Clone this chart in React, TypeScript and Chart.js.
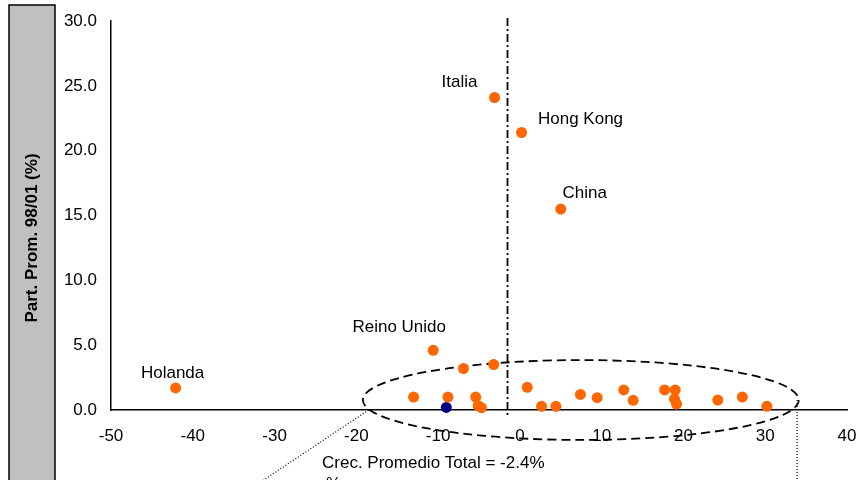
import { useEffect, useRef } from "react";
import { Chart, registerables } from "chart.js";

Chart.register(...registerables);

// ---- Data ----
const labeledNames = ["Italia", "Hong Kong", "China", "Reino Unido", "Holanda"];
const labeledGrowth = [-3.1, 0.2, 5.0, -10.6, -42.1];
const labeledShare = [24.1, 21.4, 15.5, 4.6, 1.7];

const otherGrowth = [-6.9, -3.2, -13.0, -8.8, -5.4, -5.1, -4.7, 0.9, 2.65, 4.4, 7.4, 9.45, 12.7, 13.85, 17.7, 19.0, 18.9, 19.15, 24.2, 27.2, 30.2];
const otherShare = [3.2, 3.5, 1.0, 1.0, 1.0, 0.33, 0.18, 1.75, 0.28, 0.28, 1.2, 0.95, 1.55, 0.75, 1.55, 1.55, 0.85, 0.46, 0.77, 1.0, 0.28];

const highlightGrowth = [-9.0];
const highlightShare = [0.2];

const xTickMin = -50;
const xTickMax = 40;
const xTickStep = 10;
const yTickMin = 0;
const yTickMax = 30;
const yTickStep = 5;

const averageLineGrowth = -1.6;
const averageText = "Crec. Promedio Total = -2.4%";
const yAxisTitle = "Part. Prom. 98/01 (%)";

// Ellipse around the cluster (value coordinates)
const ellipseCenter = [7.45, 0.77];
const ellipseRadius = [26.65, 3.08];

// Dotted leader lines (value coordinates)
const leftLeader = [[-18.5, 0.0], [-31.8, -5.6]];
const rightLeader = [[33.9, 0.77], [33.9, -5.6]];

// Label offsets (pixels) relative to points
const labelOffsets = [[-35, -15], [59, -13], [24, -16], [-34, -23], [-3, -15]];

const FONT = "'Liberation Sans', Arial, Helvetica, sans-serif";
const ORANGE = "#FF6600";
const NAVY = "#000080";

const overlayPlugin = {
  id: "overlay",
  beforeDraw(chart: any) {
    const ctx = chart.ctx;
    ctx.save();
    ctx.fillStyle = "#C0C0C0";
    ctx.fillRect(9, 5, 46, 490);
    ctx.strokeStyle = "#000";
    ctx.lineWidth = 1.5;
    ctx.strokeRect(9, 5, 46, 490);
    ctx.translate(32, 238);
    ctx.rotate(-Math.PI / 2);
    ctx.fillStyle = "#000";
    ctx.font = `bold 17px ${FONT}`;
    ctx.textAlign = "center";
    ctx.textBaseline = "middle";
    ctx.fillText(yAxisTitle, 0, 0);
    ctx.restore();
  },
  beforeDatasetsDraw(chart: any) {
    const ctx = chart.ctx;
    const xs = chart.scales.x;
    const ys = chart.scales.y;
    ctx.save();
    // average vertical dash-dot line
    const ax = Math.round(xs.getPixelForValue(averageLineGrowth)) + 0.5;
    ctx.strokeStyle = "#000";
    ctx.lineWidth = 1.8;
    ctx.setLineDash([8, 3, 2, 3]);
    ctx.beginPath();
    ctx.moveTo(ax, ys.getPixelForValue(yTickMax) - 3);
    ctx.lineTo(ax, ys.getPixelForValue(yTickMin) + 6);
    ctx.stroke();

    // ellipse
    const cx = xs.getPixelForValue(ellipseCenter[0]);
    const cy = ys.getPixelForValue(ellipseCenter[1]);
    const rx = Math.abs(xs.getPixelForValue(ellipseCenter[0] + ellipseRadius[0]) - cx);
    const ry = Math.abs(ys.getPixelForValue(ellipseCenter[1] + ellipseRadius[1]) - cy);
    ctx.setLineDash([9, 5]);
    ctx.lineWidth = 1.8;
    ctx.beginPath();
    ctx.ellipse(cx, cy, rx, ry, 0, 0, Math.PI * 2);
    ctx.stroke();

    // dotted leaders
    ctx.setLineDash([1, 2]);
    ctx.lineWidth = 1.2;
    for (const seg of [leftLeader, rightLeader]) {
      ctx.beginPath();
      ctx.moveTo(xs.getPixelForValue(seg[0][0]), ys.getPixelForValue(seg[0][1]));
      ctx.lineTo(xs.getPixelForValue(seg[1][0]), ys.getPixelForValue(seg[1][1]));
      ctx.stroke();
    }
    ctx.restore();
  },
  afterDraw(chart: any) {
    const ctx = chart.ctx;
    const xs = chart.scales.x;
    const ys = chart.scales.y;
    ctx.save();
    ctx.fillStyle = "#000";
    ctx.font = `17px ${FONT}`;
    ctx.textAlign = "center";
    ctx.textBaseline = "middle";
    labeledNames.forEach((name, i) => {
      const px = xs.getPixelForValue(labeledGrowth[i]) + labelOffsets[i][0];
      const py = ys.getPixelForValue(labeledShare[i]) + labelOffsets[i][1];
      ctx.fillText(name, px, py);
    });
    ctx.textAlign = "left";
    ctx.fillText(averageText, 322, 463);
    ctx.textBaseline = "top";
    ctx.fillText("%", 326, 476);
    ctx.restore();
  },
};

export default function App() {
  const ref = useRef<HTMLCanvasElement | null>(null);
  useEffect(() => {
    document.body.style.margin = "0";
    const canvas = ref.current!;
    const toPoints = (xs: number[], ys: number[]) => xs.map((x, i) => ({ x, y: ys[i] }));
    const chart = new Chart(canvas, {
      type: "scatter",
      data: {
        datasets: [
          {
            data: [...toPoints(labeledGrowth, labeledShare), ...toPoints(otherGrowth, otherShare)],
            backgroundColor: ORANGE,
            borderWidth: 0,
            pointRadius: 5.5,
            clip: false as any,
          },
          {
            data: toPoints(highlightGrowth, highlightShare),
            backgroundColor: NAVY,
            borderWidth: 0,
            pointRadius: 5.5,
            clip: false as any,
          },
        ],
      },
      options: {
        responsive: false,
        animation: false,
        devicePixelRatio: 1,
        layout: { padding: { left: 0, top: 21, right: 10, bottom: 0 } },
        plugins: { legend: { display: false }, tooltip: { enabled: false } },
        scales: {
          x: {
            type: "linear",
            min: xTickMin,
            max: xTickMax,
            afterFit: (s: any) => { s.height = 70; s.paddingRight = 0; s.paddingLeft = 0; },
            ticks: {
              stepSize: xTickStep,
              color: "#000",
              font: { family: FONT, size: 17 },
              padding: 8,
              maxRotation: 0,
              autoSkip: false,
            },
            grid: { display: false },
            border: { display: true, color: "#000", width: 1.5 },
          },
          y: {
            type: "linear",
            min: yTickMin,
            max: yTickMax,
            afterFit: (s: any) => { s.width = 111; s.paddingTop = 0; s.paddingBottom = 0; },
            ticks: {
              stepSize: yTickStep,
              color: "#000",
              font: { family: FONT, size: 17 },
              padding: 6,
              autoSkip: false,
              callback: (v: any) => Number(v).toFixed(1),
            },
            grid: { display: false },
            border: { display: true, color: "#000", width: 1.5 },
          },
        },
      },
      plugins: [overlayPlugin],
    });
    return () => chart.destroy();
  }, []);
  return <canvas ref={ref} width={857} height={480} style={{ display: "block" }} />;
}
